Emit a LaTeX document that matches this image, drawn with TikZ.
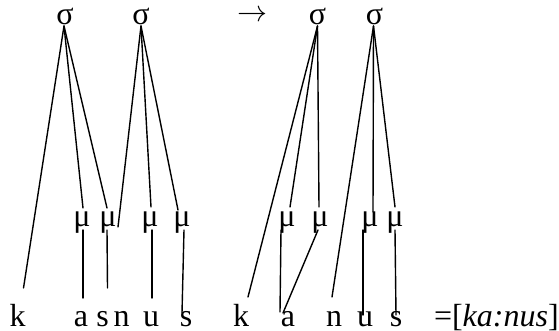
\documentclass[tikz,border=0pt]{standalone}
\usepackage{fontspec}
\setmainfont{Liberation Serif}
\usetikzlibrary{calc}
\tikzset{
  lab/.style={inner sep=0pt, outer sep=0pt, anchor=base, font=\fontsize{32}{38}\selectfont},
  tie/.style={line width=1.4pt, line cap=round}
}
\begin{document}
\begin{tikzpicture}[x=1pt, y=-1pt]
\useasboundingbox (0,0) rectangle (559,331);
% syllables
\node[lab] (s1) at (65,25) {σ};
\node[lab] (s2) at (141,25) {σ};
\node[lab] (s3) at (317.5,25) {σ};
\node[lab] (s4) at (374.5,25) {σ};
\node[inner sep=0pt, anchor=center] (arr) at (252,16) {\resizebox{30pt}{!}{$\rightarrow$}};
% moras
\node[lab] (m1) at (82,226) {μ};
\node[lab] (m2) at (108,226) {μ};
\node[lab] (m3) at (150,226) {μ};
\node[lab] (m4) at (182,226) {μ};
\node[lab] (m5) at (287,226) {μ};
\node[lab] (m6) at (320,226) {μ};
\node[lab] (m7) at (370,226) {μ};
\node[lab] (m8) at (395,226) {μ};
% segments
\node[lab] (k1) at (17.5,326) {k};
\node[lab] (a1) at (81,326) {a};
\node[lab] (sa) at (102.5,326) {s};
\node[lab] (n1) at (121.7,326) {n};
\node[lab] (u1) at (151,326) {u};
\node[lab] (sb) at (186,326) {s};
\node[lab] (k2) at (241,326) {k};
\node[lab] (a2) at (288,326) {a};
\node[lab] (n2) at (334,326) {n};
\node[lab] (u2) at (365,326) {u};
\node[lab] (sc) at (396,326) {s};
\node[lab, anchor=base west] (eq) at (434,326) {=[\textit{ka:nus}]};
% left structure
\draw[tie] ($(s1.base)+(-1,1)$) -- ($(k1.base)+(6,-38)$);
\draw[tie] ($(s1.base)+(-1,1)$) -- ($(m1.base)+(1,-18)$);
\draw[tie] ($(s1.base)+(-1,1)$) -- ($(m2.base)+(-1,-18)$);
\draw[tie] ($(s2.base)+(0,1)$) -- ($(m2.base)+(10,1)$);
\draw[tie] ($(s2.base)+(0,1)$) -- ($(m3.base)+(1,-19)$);
\draw[tie] ($(s2.base)+(0,1)$) -- ($(m4.base)+(-4,-16)$);
\draw[tie] ($(m1.base)+(1,4)$) -- ($(a1.base)+(2,-28)$);
\draw[tie] ($(m2.base)+(-1,4)$) -- ($(sa.base)+(5,-38)$);
\draw[tie] ($(m3.base)+(2,4)$) -- ($(u1.base)+(1,-28)$);
\draw[tie] ($(m4.base)+(2,4)$) -- ($(sb.base)+(-4,-13)$);
% right structure
\draw[tie] ($(s3.base)+(0,1)$) -- ($(k2.base)+(7,-29)$);
\draw[tie] ($(s3.base)+(0,1)$) -- ($(m5.base)+(3,-19)$);
\draw[tie] ($(s3.base)+(0,1)$) -- ($(m6.base)+(-1,-19)$);
\draw[tie] ($(s4.base)+(-1,1)$) -- ($(n2.base)+(-2,-29)$);
\draw[tie] ($(s4.base)+(-1,1)$) -- ($(m7.base)+(3,-14)$);
\draw[tie] ($(s4.base)+(-1,1)$) -- ($(m8.base)+(0,-19)$);
\draw[tie] ($(m5.base)+(-6,4)$) -- ($(a2.base)+(-8,-14)$);
\draw[tie] ($(m6.base)+(-2,4)$) -- ($(a2.base)+(-5,-13)$);
\draw[tie] ($(m7.base)+(-7,4)$) -- ($(u2.base)+(-2,-11)$);
\draw[tie] ($(m8.base)+(0,4)$) -- ($(sc.base)+(0,-11)$);
\end{tikzpicture}
\end{document}
